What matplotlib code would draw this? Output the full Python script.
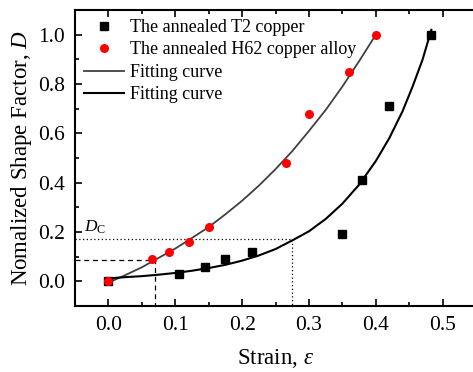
import numpy as np
import matplotlib
matplotlib.use("Agg")
import matplotlib.pyplot as plt

plt.rcParams['font.family'] = ['Liberation Serif', 'DejaVu Serif']
plt.rcParams['mathtext.fontset'] = 'custom'
plt.rcParams['mathtext.rm'] = 'Liberation Serif'
plt.rcParams['mathtext.it'] = 'Liberation Serif:italic'

# measured points
t2_strain = [0.0, 0.105, 0.145, 0.175, 0.215, 0.35, 0.38, 0.42, 0.483]
t2_D = [0.0, 0.03, 0.06, 0.09, 0.12, 0.19, 0.41, 0.71, 1.0]
h62_strain = [0.0, 0.065, 0.09, 0.12, 0.15, 0.265, 0.30, 0.36, 0.40]
h62_D = [0.0, 0.09, 0.12, 0.16, 0.22, 0.48, 0.68, 0.85, 1.0]

# fitting curves
h62_fit_x = [0.0, 0.025, 0.05, 0.075, 0.10, 0.125, 0.15, 0.175, 0.20, 0.225,
             0.25, 0.275, 0.30, 0.325, 0.35, 0.375, 0.40]
h62_fit_D = [-0.005, 0.025, 0.057, 0.095, 0.133, 0.176, 0.22, 0.272, 0.327, 0.388,
             0.455, 0.528, 0.61, 0.695, 0.79, 0.893, 1.0]
t2_fit_x = [0.0, 0.025, 0.05, 0.075, 0.10, 0.125, 0.15, 0.175, 0.20, 0.225, 0.25,
            0.275, 0.30, 0.325, 0.35, 0.375, 0.40, 0.42, 0.44, 0.455, 0.47, 0.483]
t2_fit_D = [0.012, 0.017, 0.021, 0.027, 0.034, 0.043, 0.054, 0.067, 0.084, 0.105, 0.131,
            0.166, 0.203, 0.253, 0.315, 0.392, 0.488, 0.58, 0.69, 0.79, 0.9, 1.02]

# critical damage guide lines (strain, D)
crit_h62 = (0.07, 0.085)
crit_t2 = (0.275, 0.17)

xlim = (-0.05, 0.55)
ylim = (-0.1, 1.1)

fig = plt.figure(figsize=(4.73, 3.72), dpi=100)
ax = fig.add_axes([0.1586, 0.1774, 0.848, 0.7956])

ax.plot([xlim[0], crit_h62[0], crit_h62[0]], [crit_h62[1], crit_h62[1], ylim[0]],
        color='black', lw=0.9, ls=(0, (4, 3)))
ax.plot([xlim[0], crit_t2[0], crit_t2[0]], [crit_t2[1], crit_t2[1], ylim[0]],
        color='black', lw=0.9, ls=(0, (1, 2)))

ax.plot(t2_strain, t2_D, 's', color='black', ms=5.5, label='The annealed T2 copper', zorder=3)
ax.plot(h62_strain, h62_D, 'o', color='#ff0000', ms=6.5, mec='none', label='The annealed H62 copper alloy', zorder=4)
ax.plot(h62_fit_x, h62_fit_D, '-', color='#404040', lw=1.3, label='Fitting curve')
ax.plot(t2_fit_x, t2_fit_D, '-', color='black', lw=1.5, label='Fitting curve')

ax.text(-0.037, 0.2, r'$D_\mathrm{C}$', fontsize=12.5)

ax.set_xlim(*xlim)
ax.set_ylim(*ylim)
ax.set_xticks([0.0, 0.1, 0.2, 0.3, 0.4, 0.5])
ax.set_yticks([0.0, 0.2, 0.4, 0.6, 0.8, 1.0])
ax.set_xticks(np.arange(-0.05, 0.56, 0.05), minor=True)
ax.set_yticks(np.arange(-0.1, 1.11, 0.1), minor=True)
ax.tick_params(which='both', direction='in', top=True, right=False, labelsize=15.5, width=1.2)
ax.tick_params(which='major', length=5, pad=7)
ax.tick_params(which='minor', length=3)
for s in ax.spines.values():
    s.set_linewidth(1.5)

ax.set_xlabel(r'Strain, $\varepsilon$', fontsize=16.5, labelpad=9)
ax.set_ylabel(r'Nomalized Shape Factor, $D$', fontsize=16.5, labelpad=3)

ax.legend(loc='upper left', frameon=False, fontsize=13, handlelength=2.2,
          handletextpad=0.35, labelspacing=0.3, borderaxespad=0.2, borderpad=0.3)

fig.savefig('out.png', dpi=100)
